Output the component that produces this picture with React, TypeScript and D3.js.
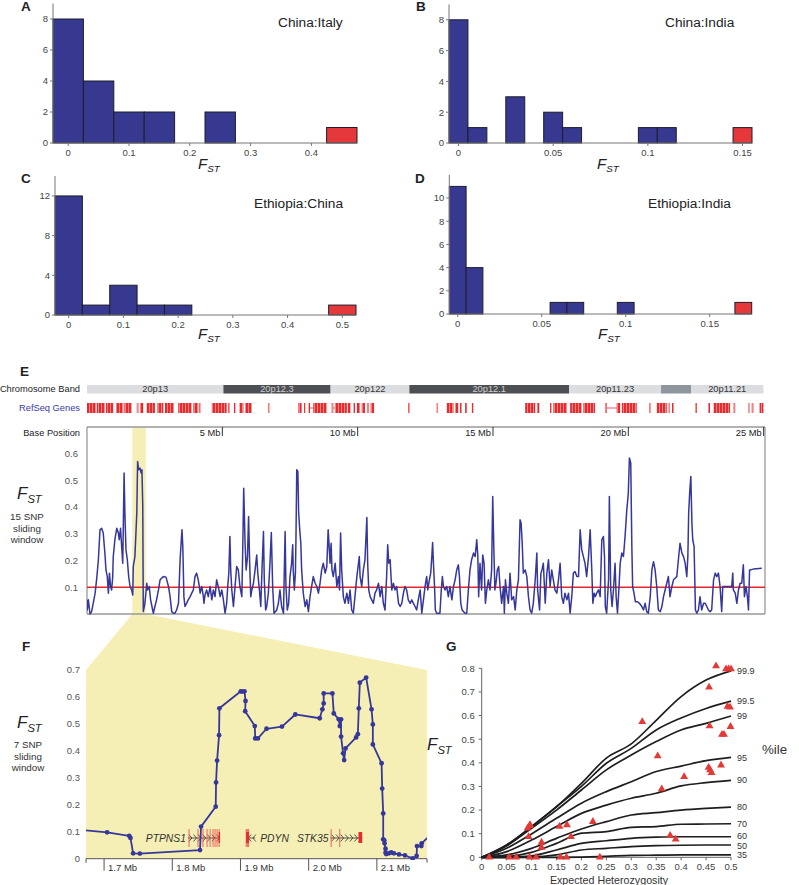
import React from 'react';
import * as d3 from 'd3';

const FONT = '"Liberation Sans", Arial, Helvetica, sans-serif';
const BAR_BLUE = '#37388f';
const RED = '#e5383b';
const LINE_BLUE = '#35379b';
const YELLOW = '#f6efb5';

// ---------- Panels A-D: histogram data ----------
const histA_bins = [0, 0.05, 0.1, 0.15, 0.2, 0.25, 0.3, 0.35, 0.4, 0.45];
const histA_counts = [8, 4, 2, 2, 0, 2, 0, 0, 0, 1];
const histA_xTicks = [0, 0.1, 0.2, 0.3, 0.4];
const histA_yTicks = [0, 2, 4, 6, 8];

const histB_bins = [0, 0.01, 0.02, 0.03, 0.04, 0.05, 0.06, 0.07, 0.08, 0.09, 0.1, 0.11, 0.12, 0.13, 0.14, 0.15];
const histB_counts = [8, 1, 0, 3, 0, 2, 1, 0, 0, 0, 1, 1, 0, 0, 0, 1];
const histB_xTicks = [0, 0.05, 0.1, 0.15];
const histB_yTicks = [0, 2, 4, 6, 8];

const histC_bins = [0, 0.05, 0.1, 0.15, 0.2, 0.25, 0.3, 0.35, 0.4, 0.45, 0.5];
const histC_counts = [12, 1, 3, 1, 1, 0, 0, 0, 0, 0, 1];
const histC_xTicks = [0, 0.1, 0.2, 0.3, 0.4, 0.5];
const histC_yTicks = [0, 4, 8, 12];

const histD_bins = [0, 0.01, 0.02, 0.03, 0.04, 0.05, 0.06, 0.07, 0.08, 0.09, 0.1, 0.11, 0.12, 0.13, 0.14, 0.15, 0.16, 0.17];
const histD_counts = [11, 4, 0, 0, 0, 0, 1, 1, 0, 0, 1, 0, 0, 0, 0, 0, 0, 1];
const histD_xTicks = [0, 0.05, 0.1, 0.15];
const histD_yTicks = [0, 2, 4, 6, 8, 10];

// ---------- Panel E ----------
const bandNames = ['20p13', '20p12.3', '20p122', '20p12.1', '20p11.23', '', '20p11.21'];
const bandStarts = [0, 5.04, 9.0, 11.91, 17.81, 21.21, 22.32];
const bandEnds = [5.04, 9.0, 11.91, 17.81, 21.21, 22.32, 24.99];
const bandStains = ['light', 'dark', 'light', 'dark', 'light', 'grey', 'light'];

const refseqGenes = [
  [0.0, 0.33], [0.36, 0.66], [0.70, 0.97], [1.07, 1.34], [1.38, 1.65], [1.84, 1.90], [1.96, 2.08],
  [2.20, 2.51], [2.60, 2.82], [2.88, 3.21], [3.37, 3.87], [3.93, 4.11], [4.15, 4.20], [4.61, 5.16],
  [5.22, 5.26], [5.43, 5.48], [5.63, 5.78], [5.84, 6.09], [6.70, 6.74], [7.81, 7.93], [8.02, 8.07],
  [8.18, 8.24], [8.36, 8.86], [9.04, 9.10], [9.16, 9.60], [9.63, 9.74], [9.84, 9.90], [9.97, 10.09],
  [10.15, 10.27], [10.36, 10.42], [10.48, 10.61], [11.87, 11.91],
  [12.92, 12.97], [13.29, 13.54], [13.60, 13.72], [13.78, 13.85], [13.97, 14.03], [14.22, 14.28],
  [16.19, 16.56], [16.64, 16.72], [17.11, 17.17], [17.23, 17.73], [17.85, 18.28], [18.34, 18.77],
  [19.14, 19.20], [19.57, 19.70], [19.76, 20.31], [20.78, 20.83], [21.05, 21.42], [21.48, 21.52],
  [21.61, 21.67], [22.47, 22.53], [22.96, 23.02], [23.15, 23.76], [23.89, 23.95], [24.44, 24.48],
  [24.56, 24.62], [24.85, 24.99],
];
const refseqIntrons = [[8.24, 8.36], [9.10, 9.16], [19.20, 19.57]];
const baseTicksMb = [5, 10, 15, 20, 25];
const eYTicks = [0.1, 0.2, 0.3, 0.4, 0.5, 0.6];
const fstThreshold = 0.1;

// [position (Mb), FST] 15-SNP sliding window
const eWindow = [
  [0.00, 0.053], [0.01, 0.015], [0.05, 0.053], [0.11, 0], [0.17, 0.009], [0.23, 0.04], [0.30, 0.078],
  [0.36, 0.134], [0.42, 0.203], [0.48, 0.315], [0.54, 0.321], [0.60, 0.303], [0.67, 0.215], [0.70, 0.165],
  [0.75, 0.14], [0.79, 0.078], [0.83, 0.153], [0.87, 0.103], [0.91, 0.09], [0.95, 0.14], [0.97, 0.215],
  [1.03, 0.278], [1.10, 0.321], [1.16, 0.303], [1.19, 0.278], [1.24, 0.321], [1.28, 0.253], [1.32, 0.19],
  [1.34, 0.315], [1.37, 0.528], [1.40, 0.378], [1.44, 0.24], [1.49, 0.203], [1.54, 0.14], [1.59, 0.103],
  [1.65, 0.09], [1.69, 0.071], [1.71, 0.178], [1.77, 0.215], [1.84, 0.378], [1.87, 0.571], [1.91, 0.54],
  [1.96, 0.546], [2.00, 0.528], [2.03, 0.54], [2.06, 0.403], [2.08, 0.009], [2.14, 0.04], [2.21, 0.115],
  [2.24, 0.09], [2.30, 0.103], [2.35, 0.053], [2.40, 0.028], [2.45, 0.003], [2.51, 0.028], [2.57, 0.053],
  [2.64, 0.09], [2.70, 0.128], [2.82, 0.14], [2.92, 0.138], [3.01, 0.103], [3.07, 0.065], [3.13, 0.009],
  [3.19, 0.003], [3.25, 0.003], [3.31, 0.015], [3.38, 0.04], [3.44, 0.203], [3.47, 0.253], [3.51, 0.315],
  [3.54, 0.253], [3.58, 0.065], [3.62, 0.028], [3.68, 0.04], [3.74, 0.053], [3.81, 0.065], [3.87, 0.078],
  [3.93, 0.09], [3.99, 0.14], [4.05, 0.153], [4.11, 0.128], [4.15, 0.103], [4.18, 0.078], [4.24, 0.103],
  [4.30, 0.065], [4.32, 0.04], [4.36, 0.071], [4.42, 0.09], [4.48, 0.065], [4.55, 0.103], [4.61, 0.053],
  [4.67, 0.09], [4.73, 0.065], [4.79, 0.128], [4.85, 0.103], [4.92, 0.065], [4.98, 0.09], [5.04, 0.053],
  [5.10, 0.003], [5.16, 0.04], [5.20, 0.103], [5.24, 0.153], [5.28, 0.29], [5.31, 0.165], [5.35, 0.09],
  [5.41, 0.028], [5.47, 0.103], [5.53, 0.178], [5.59, 0.165], [5.65, 0.103], [5.72, 0.065], [5.75, 0.215],
  [5.79, 0.471], [5.84, 0.265], [5.88, 0.165], [5.93, 0.215], [5.97, 0.365], [6.01, 0.19], [6.05, 0.065],
  [6.09, 0.09], [6.15, 0.115], [6.21, 0.165], [6.27, 0.221], [6.31, 0.153], [6.37, 0.09], [6.42, 0.028],
  [6.47, 0.178], [6.52, 0.309], [6.55, 0.128], [6.60, 0.015], [6.64, 0.028], [6.70, 0.078], [6.76, 0.19],
  [6.81, 0.305], [6.86, 0.103], [6.91, 0.003], [7.01, 0.015], [7.07, 0.04], [7.13, 0.09], [7.19, 0.028],
  [7.26, 0.003], [7.29, 0.165], [7.32, 0.309], [7.35, 0.103], [7.40, 0.015], [7.45, 0.04], [7.50, 0.14],
  [7.56, 0.19], [7.60, 0.259], [7.62, 0.165], [7.66, 0.09], [7.70, 0.153], [7.72, 0.278], [7.75, 0.54],
  [7.79, 0.534], [7.82, 0.378], [7.86, 0.315], [7.90, 0.265], [7.93, 0.165], [7.99, 0.078], [8.06, 0.028],
  [8.12, 0.053], [8.18, 0.009], [8.24, 0.065], [8.30, 0.103], [8.36, 0.14], [8.43, 0.115], [8.49, 0.103],
  [8.55, 0.078], [8.61, 0.115], [8.67, 0.165], [8.73, 0.19], [8.80, 0.153], [8.86, 0.178], [8.91, 0.315],
  [8.94, 0.265], [8.98, 0.19], [9.02, 0.265], [9.05, 0.165], [9.10, 0.14], [9.17, 0.19], [9.23, 0.103],
  [9.29, 0.14], [9.33, 0.09], [9.37, 0.303], [9.41, 0.165], [9.47, 0.065], [9.53, 0.04], [9.60, 0.078],
  [9.66, 0.04], [9.72, 0.09], [9.78, 0.015], [9.84, 0.003], [9.90, 0.065], [9.97, 0.14], [10.03, 0.19],
  [10.06, 0.215], [10.09, 0.14], [10.15, 0.103], [10.21, 0.165], [10.27, 0.203], [10.34, 0.361],
  [10.37, 0.19], [10.41, 0.09], [10.46, 0.065], [10.52, 0.053], [10.58, 0.04], [10.64, 0.078], [10.70, 0.09],
  [10.77, 0.115], [10.83, 0.065], [10.89, 0.103], [10.95, 0.04], [11.01, 0.015], [11.07, 0.14], [11.11, 0.259],
  [11.15, 0.19], [11.20, 0.203], [11.26, 0.09], [11.32, 0.115], [11.38, 0.09], [11.44, 0.103], [11.51, 0.04],
  [11.57, 0.028], [11.63, 0.04], [11.69, 0.078], [11.75, 0.103], [11.81, 0.09], [11.87, 0.053], [11.94, 0.04],
  [12.00, 0.053], [12.06, 0.04], [12.12, 0.028], [12.18, 0.015], [12.24, 0.053], [12.31, 0.09], [12.37, 0.003],
  [12.43, 0.053], [12.49, 0.103], [12.55, 0.14], [12.59, 0.09], [12.65, 0.128], [12.70, 0.153], [12.74, 0.215],
  [12.77, 0.268], [12.80, 0.19], [12.84, 0.103], [12.87, 0.015], [12.92, 0.003], [12.98, 0.003], [13.04, 0.003],
  [13.09, 0.09], [13.13, 0.14], [13.17, 0.103], [13.23, 0.09], [13.29, 0.103], [13.35, 0.065], [13.41, 0.103],
  [13.48, 0.053], [13.54, 0.103], [13.60, 0.128], [13.66, 0.165], [13.72, 0.184], [13.76, 0.14], [13.81, 0.04],
  [13.86, 0.015], [13.91, 0.009], [13.97, 0.003], [14.03, 0.003], [14.09, 0.09], [14.15, 0.165], [14.21, 0.203],
  [14.28, 0.228], [14.34, 0.215], [14.40, 0.278], [14.44, 0.215], [14.47, 0.065], [14.52, 0.19], [14.58, 0.09],
  [14.62, 0.221], [14.67, 0.19], [14.72, 0.04], [14.77, 0.09], [14.83, 0.128], [14.89, 0.09], [14.95, 0.165],
  [14.99, 0.44], [15.03, 0.253], [15.07, 0.09], [15.11, 0.115], [15.16, 0.165], [15.21, 0.178], [15.26, 0.103],
  [15.32, 0.04], [15.39, 0.103], [15.42, 0.003], [15.46, 0.128], [15.51, 0.078], [15.57, 0.04], [15.63, 0.153],
  [15.69, 0.053], [15.76, 0.065], [15.82, 0.015], [15.88, 0.09], [15.94, 0.128], [16.00, 0.353], [16.04, 0.34],
  [16.08, 0.265], [16.12, 0.153], [16.19, 0.165], [16.25, 0.14], [16.31, 0.065], [16.37, 0.015], [16.43, 0.003],
  [16.49, 0.04], [16.56, 0.128], [16.62, 0.228], [16.65, 0.09], [16.72, 0.015], [16.77, 0.153], [16.81, 0.165],
  [16.86, 0.19], [16.93, 0.04], [16.99, 0.153], [17.05, 0.203], [17.11, 0.103], [17.17, 0.165], [17.23, 0.128],
  [17.29, 0.09], [17.36, 0.078], [17.42, 0.128], [17.48, 0.19], [17.54, 0.065], [17.60, 0.04], [17.66, 0.078],
  [17.73, 0.053], [17.79, 0.078], [17.85, 0.003], [17.91, 0.065], [17.97, 0.153], [18.03, 0.159], [18.10, 0.14],
  [18.16, 0.14], [18.22, 0.315], [18.28, 0.24], [18.34, 0.215], [18.40, 0.19], [18.46, 0.14], [18.53, 0.215],
  [18.59, 0.315], [18.65, 0.165], [18.69, 0.04], [18.74, 0.078], [18.78, 0.065], [18.83, 0.078], [18.90, 0.09],
  [18.96, 0.065], [19.02, 0.278], [19.08, 0.29], [19.12, 0.215], [19.15, 0.028], [19.20, 0.003], [19.27, 0.128],
  [19.30, 0.44], [19.35, 0.09], [19.40, 0.028], [19.45, 0.09], [19.51, 0.19], [19.55, 0.065], [19.60, 0.003],
  [19.65, 0.09], [19.70, 0.19], [19.76, 0.228], [19.82, 0.215], [19.88, 0.29], [19.94, 0.384], [20.00, 0.453],
  [20.04, 0.584], [20.09, 0.565], [20.13, 0.253], [20.16, 0.103], [20.21, 0.078], [20.26, 0.046], [20.34, 0.046],
  [20.41, 0.04], [20.50, 0.028], [20.56, 0.015], [20.62, 0.04], [20.68, 0.009], [20.74, 0.003], [20.81, 0.065],
  [20.87, 0.165], [20.93, 0.196], [20.99, 0.165], [21.05, 0.103], [21.11, 0.015], [21.18, 0.009], [21.24, 0.028],
  [21.30, 0.065], [21.36, 0.09], [21.42, 0.115], [21.48, 0.14], [21.54, 0.065], [21.61, 0.103], [21.67, 0.128],
  [21.73, 0.134], [21.79, 0.14], [21.85, 0.203], [21.91, 0.265], [21.98, 0.228], [22.04, 0.215], [22.10, 0.19],
  [22.16, 0.14], [22.20, 0.215], [22.23, 0.378], [22.27, 0.459], [22.31, 0.515], [22.35, 0.34], [22.38, 0.278],
  [22.43, 0.253], [22.48, 0.015], [22.53, 0.003], [22.59, 0.015], [22.65, 0.065], [22.71, 0.015], [22.78, 0.04],
  [22.84, 0.04], [22.90, 0.028], [22.96, 0.015], [23.02, 0.009], [23.08, 0.015], [23.15, 0.128], [23.21, 0.153],
  [23.27, 0.14], [23.33, 0.153], [23.39, 0.103], [23.45, 0.009], [23.49, 0.103], [23.54, 0.103], [23.64, 0.103],
  [23.76, 0.103], [23.82, 0.103], [23.86, 0.153], [23.88, 0.09], [23.95, 0.078], [24.01, 0.04], [24.07, 0.09],
  [24.13, 0.115], [24.19, 0.115], [24.25, 0.184], [24.29, 0.065], [24.35, 0.103], [24.40, 0.065], [24.44, 0.015],
  [24.48, 0.165], [24.50, 0.165], [24.62, 0.168], [24.93, 0.171],
];

// ---------- Panel F ----------
const fDomainMb = [1.6735, 2.1735];
const fXTicks = [1.7, 1.8, 1.9, 2.0, 2.1];
const fYTicks = [0, 0.1, 0.2, 0.3, 0.4, 0.5, 0.6, 0.7];
// [position (Mb), FST] 7-SNP sliding window
const fWindow = [
  [1.665, 0.107], [1.7044, 0.098], [1.7368, 0.085], [1.7387, 0.077], [1.7426, 0.020], [1.7525, 0.019],
  [1.8407, 0.032], [1.8422, 0.119], [1.8637, 0.193], [1.8642, 0.283], [1.8657, 0.364], [1.8686, 0.458],
  [1.8691, 0.558], [1.9005, 0.621], [1.9025, 0.620], [1.9059, 0.621], [1.9074, 0.585], [1.9069, 0.547],
  [1.921, 0.492], [1.9216, 0.446], [1.9255, 0.446], [1.9382, 0.482], [1.9608, 0.490], [1.9804, 0.535],
  [2.0162, 0.521], [2.0201, 0.554], [2.022, 0.576], [2.022, 0.613], [2.0348, 0.613], [2.0368, 0.539],
  [2.0441, 0.517], [2.0456, 0.492], [2.0475, 0.517], [2.0475, 0.453], [2.0505, 0.391], [2.052, 0.366],
  [2.054, 0.409], [2.0696, 0.450], [2.0721, 0.462], [2.0735, 0.558], [2.075, 0.653], [2.0843, 0.672],
  [2.0922, 0.554], [2.0941, 0.498], [2.0941, 0.424], [2.1069, 0.354], [2.1078, 0.260], [2.1093, 0.168],
  [2.1093, 0.072], [2.1108, 0.068], [2.1113, 0.057], [2.1127, 0.037], [2.1127, 0.022], [2.1137, 0.017],
  [2.1176, 0.020], [2.121, 0.023], [2.125, 0.020], [2.1324, 0.016], [2.1412, 0.012], [2.1525, 0.001],
  [2.1583, 0.010], [2.1588, 0.047], [2.1652, 0.047], [2.1657, 0.057], [2.178, 0.087],
];
const fGeneNames = ['PTPNS1', 'PDYN', 'STK35'];
const fGeneStarts = [1.8229, 1.9084, 2.0319];
const fGeneEnds = [1.8701, 1.9216, 2.0785];
const fGeneStrands = [1, -1, 1];
const fGeneExons = [
  [1.8246, 1.8378, 1.8451, 1.8510, 1.8554, 1.8598, 1.8628, 1.8657, 1.8687],
  [1.9084, 1.9100, 1.9116],
  [2.0329, 2.0456],
];
const fGeneBlocks = [[1.8680, 1.8701], [1.9084, 1.9124], [2.0731, 2.0785]];

// ---------- Panel G ----------
const gHet = [0, 0.05, 0.1, 0.15, 0.2, 0.25, 0.3, 0.35, 0.4, 0.45, 0.5];
const gPctNames = ['99.9', '99.5', '99', '95', '90', '80', '70', '60', '50', '35'];
const gPct999 = [0, 0.052, 0.13, 0.214, 0.313, 0.42, 0.48, 0.58, 0.68, 0.75, 0.789];
const gPct995 = [0, 0.052, 0.13, 0.214, 0.30, 0.398, 0.461, 0.539, 0.59, 0.63, 0.661];
const gPct99 = [0, 0.048, 0.123, 0.20, 0.285, 0.37, 0.433, 0.49, 0.539, 0.567, 0.598];
const gPct95 = [0, 0.038, 0.099, 0.165, 0.229, 0.278, 0.32, 0.363, 0.386, 0.409, 0.423];
const gPct90 = [0, 0.024, 0.073, 0.13, 0.186, 0.221, 0.25, 0.271, 0.302, 0.316, 0.326];
const gPct80 = [0, 0.01, 0.038, 0.08, 0.12, 0.151, 0.179, 0.189, 0.20, 0.207, 0.212];
const gPct70 = [0, 0.003, 0.021, 0.059, 0.102, 0.109, 0.127, 0.13, 0.14, 0.141, 0.142];
const gPct60 = [0, 0, 0.006, 0.031, 0.059, 0.07, 0.08, 0.085, 0.087, 0.087, 0.087];
const gPct50 = [0, 0, 0.001, 0.01, 0.031, 0.038, 0.045, 0.049, 0.051, 0.052, 0.052];
const gPct35 = [0, 0, 0, 0, 0.001, 0.004, 0.008, 0.009, 0.01, 0.01, 0.01];
const gXTicks = [0, 0.05, 0.1, 0.15, 0.2, 0.25, 0.3, 0.35, 0.4, 0.45, 0.5];
const gYTicks = [0, 0.1, 0.2, 0.3, 0.4, 0.5, 0.6, 0.7, 0.8];
// [expected heterozygosity, FST] of pigmentation SNPs
const gSnps = [
  [0.015, 0], [0.055, 0], [0.069, 0], [0.096, 0], [0.109, 0], [0.158, 0], [0.17, 0], [0.237, 0],
  [0.092, 0.123], [0.096, 0.133], [0.097, 0.137], [0.094, 0.087], [0.12, 0.063], [0.12, 0.042],
  [0.156, 0.13], [0.171, 0.137], [0.179, 0.087], [0.223, 0.151], [0.322, 0.574], [0.353, 0.429],
  [0.361, 0.289], [0.378, 0.092], [0.389, 0.076], [0.406, 0.341], [0.456, 0.72], [0.457, 0.556],
  [0.455, 0.38], [0.458, 0.37], [0.461, 0.358], [0.47, 0.81], [0.48, 0.39], [0.482, 0.52], [0.486, 0.52],
  [0.49, 0.797], [0.495, 0.797], [0.5, 0.797], [0.493, 0.638], [0.498, 0.635], [0.499, 0.553],
];
const gLabelNudge = [0, 0, 0, 0, 0, 0, 0, -1, 1, 0];

const tickFmt = (t: number) => String(t);

function Fst({ x, y, size = 15 }: any) {
  return (
    <text x={x} y={y} fontFamily={FONT} fontStyle="italic" fontSize={size} fill="#222">
      F<tspan fontSize={size * 0.66} dy={size * 0.22}>ST</tspan>
    </text>
  );
}

function Letter({ x, y, t }: any) {
  return <text x={x} y={y} fontFamily={FONT} fontWeight="bold" fontSize={13.5} fill="#222">{t}</text>;
}

function Hist(p: any) {
  const x = d3.scaleLinear().domain(p.xDomain).range(p.xRange);
  const y = d3.scaleLinear().domain([0, p.yMax]).range([p.y0, p.yTop]);
  const hw = p.binWidth / 2;
  const x0 = p.xRange[0];
  return (
    <g>
      {p.bins.map((b: number, i: number) =>
        p.counts[i] > 0 ? (
          <rect key={i} x={x(b - hw)} y={y(p.counts[i])} width={x(b + hw) - x(b - hw)}
            height={y(0) - y(p.counts[i])} fill={b === p.red ? RED : BAR_BLUE}
            stroke="#1d1d2a" strokeWidth={1} />
        ) : null
      )}
      <line x1={x0} x2={x0} y1={y(0)} y2={y(p.yMax)} stroke="#777" strokeWidth={1} />
      <line x1={x0} x2={p.xRange[1]} y1={y(0)} y2={y(0)} stroke="#777" strokeWidth={1} />
      {p.yTicks.map((t: number) => (
        <g key={t}>
          <line x1={x0 - 3} x2={x0} y1={y(t)} y2={y(t)} stroke="#777" />
          <text x={x0 - 5} y={y(t)} dy="0.35em" textAnchor="end" fontFamily={FONT} fontSize={9.5} fill="#444">{t}</text>
        </g>
      ))}
      {p.xTicks.map((t: number) => (
        <g key={t}>
          <line x1={x(t)} x2={x(t)} y1={y(0)} y2={y(0) + 3} stroke="#777" />
          <text x={x(t)} y={y(0) + 13} textAnchor="middle" fontFamily={FONT} fontSize={9.5} fill="#444">{tickFmt(t)}</text>
        </g>
      ))}
      <text x={p.titleX} y={p.titleY} fontFamily={FONT} fontSize={13.7} fill="#222">{p.title}</text>
      <Fst x={p.fstX} y={p.fstY} />
      <Letter x={p.letterX} y={p.letterY} t={p.letter} />
    </g>
  );
}

export default function App() {
  // Panel E scales
  const xE = d3.scaleLinear().domain([0, 25.05]).range([87, 765]);
  const yE = d3.scaleLinear().domain([0, 0.7]).range([614, 427]);
  const eLine = d3.line<any>().x((d) => xE(d[0])).y((d) => yE(d[1]));

  // Panel F scales
  const xF = d3.scaleLinear().domain(fDomainMb).range([86, 427]);
  const yF = d3.scaleLinear().domain([0, 0.7]).range([858.7, 670]);
  const fLine = d3.line<any>().x((d) => xF(d[0])).y((d) => yF(d[1]));

  // Panel G scales
  const xG = d3.scaleLinear().domain([0, 0.5]).range([481.7, 731]);
  const yG = d3.scaleLinear().domain([0, 0.8]).range([857.3, 668.3]);
  const gLine = d3.line<number>().x((_, i) => xG(gHet[i])).y((d) => yG(d)).curve(d3.curveMonotoneX);
  const gCurves = [gPct999, gPct995, gPct99, gPct95, gPct90, gPct80, gPct70, gPct60, gPct50, gPct35];
  const tri = d3.symbol().type(d3.symbolTriangle).size(27)();

  const bandFill: any = { light: '#dcdde1', dark: '#4c4f53', grey: '#8f959c' };
  const bandText: any = { light: '#333', dark: '#d0d0d0', grey: '#333' };

  const conn = [
    [xE(fDomainMb[0]), yE(0)], [xE(fDomainMb[1]), yE(0)],
    [xF(fDomainMb[1]), yF(0.7)], [xF(fDomainMb[0]), yF(0.7)],
  ];

  return (
    <svg width={799} height={885} style={{ position: 'absolute', left: 0, top: 0, background: '#fff' }}
      fontFamily={FONT}>
      <defs>
        <pattern id="exons" width={3} height={10} patternUnits="userSpaceOnUse">
          <rect width={3} height={10} fill="#f49a9a" />
          <rect width={2.2} height={10} fill="#e52a30" />
        </pattern>
        <clipPath id="eclip"><rect x={87} y={427} width={678} height={190} /></clipPath>
        <clipPath id="fclip"><rect x={86} y={660} width={341} height={200} /></clipPath>
      </defs>

      {/* Histograms */}
      <Hist bins={histA_bins} counts={histA_counts} red={0.45} binWidth={0.05}
        xDomain={[-0.025, 0.475]} xRange={[53, 357]} yMax={9} y0={143} yTop={3.5}
        yTicks={histA_yTicks} xTicks={histA_xTicks} title="China:Italy" titleX={278} titleY={27}
        fstX={198} fstY={169} letter="A" letterX={21} letterY={11} />
      <Hist bins={histB_bins} counts={histB_counts} red={0.15} binWidth={0.01}
        xDomain={[-0.005, 0.155]} xRange={[449, 752]} yMax={9} y0={143} yTop={4.4}
        yTicks={histB_yTicks} xTicks={histB_xTicks} title="China:India" titleX={665} titleY={27}
        fstX={597} fstY={169} letter="B" letterX={416} letterY={11} />
      <Hist bins={histC_bins} counts={histC_counts} red={0.5} binWidth={0.05}
        xDomain={[-0.025, 0.525]} xRange={[55, 356]} yMax={14} y0={315} yTop={176.1}
        yTicks={histC_yTicks} xTicks={histC_xTicks} title="Ethiopia:China" titleX={254} titleY={208}
        fstX={198} fstY={339} letter="C" letterX={21} letterY={183} />
      <Hist bins={histD_bins} counts={histD_counts} red={0.17} binWidth={0.01}
        xDomain={[-0.005, 0.175]} xRange={[449.3, 751.7]} yMax={12} y0={314} yTop={174.8}
        yTicks={histD_yTicks} xTicks={histD_xTicks} title="Ethiopia:India" titleX={648} titleY={208}
        fstX={598} fstY={339} letter="D" letterX={415} letterY={183} />

      {/* Panel E */}
      <Letter x={20} y={376} t="E" />
      <text x={80} y={392} textAnchor="end" fontSize={9.3} fill="#222">Chromosome Band</text>
      {bandNames.map((n, i) => (
        <g key={i}>
          <rect x={xE(bandStarts[i])} y={385} width={xE(bandEnds[i]) - xE(bandStarts[i])} height={8.5}
            fill={bandFill[bandStains[i]]} />
          {n && <text x={(xE(bandStarts[i]) + xE(bandEnds[i])) / 2} y={392.3} textAnchor="middle"
            fontSize={9.3} fill={bandText[bandStains[i]]}>{n}</text>}
        </g>
      ))}
      <text x={80} y={411} textAnchor="end" fontSize={9.3} fill="#3a3aa8">RefSeq Genes</text>
      {refseqIntrons.map((g, i) => (
        <line key={'in' + i} x1={xE(g[0])} x2={xE(g[1])} y1={408} y2={408} stroke="#e52a30" strokeWidth={0.8} />
      ))}
      {refseqGenes.map((g, i) => (
        <rect key={'g' + i} x={xE(g[0])} y={403} width={Math.max(1.2, xE(g[1]) - xE(g[0]))} height={10}
          fill="url(#exons)" />
      ))}
      <text x={80} y={436} textAnchor="end" fontSize={9.3} fill="#222">Base Position</text>

      <rect x={xE(fDomainMb[0])} y={yE(0.7)} width={xE(fDomainMb[1]) - xE(fDomainMb[0])} height={yE(0) - yE(0.7)}
        fill={YELLOW} />
      <polygon points={conn.map((p) => p.join(',')).join(' ')} fill={YELLOW} />
      <rect x={xF(fDomainMb[0])} y={yF(0.7)} width={xF(fDomainMb[1]) - xF(fDomainMb[0])} height={yF(0) - yF(0.7)}
        fill={YELLOW} />

      <g stroke="#999" strokeWidth={1.3} fill="none">
        <line x1={xE(0)} x2={xE.range()[1]} y1={yE(0.7)} y2={yE(0.7)} />
        <line x1={xE(0)} x2={xE(0)} y1={yE(0.7)} y2={yE(0)} />
        <line x1={xE.range()[1]} x2={xE.range()[1]} y1={yE(0.7)} y2={yE(0)} />
        <line x1={xE(0)} x2={xE.range()[1]} y1={yE(0)} y2={yE(0)} />
      </g>
      {baseTicksMb.map((t) => (
        <g key={t}>
          <line x1={xE(t)} x2={xE(t)} y1={yE(0.7)} y2={yE(0.7) + 9} stroke="#333" strokeWidth={1} />
          <text x={xE(t) - 2} y={436} textAnchor="end" fontSize={9.3} fill="#222">{t} Mb</text>
        </g>
      ))}
      {eYTicks.map((t) => (
        <text key={t} x={78} y={yE(t)} dy="0.35em" textAnchor="end" fontSize={9.5} fill="#555">{t}</text>
      ))}
      <line x1={xE(0)} x2={xE.range()[1]} y1={yE(fstThreshold)} y2={yE(fstThreshold)} stroke="#e8262b" strokeWidth={1.5} />
      <path d={eLine(eWindow as any) || ''} fill="none" stroke={LINE_BLUE} strokeWidth={1.5}
        strokeLinejoin="round" clipPath="url(#eclip)" />
      <Fst x={17} y={499} size={17} />
      <text x={27} y={520} textAnchor="middle" fontSize={9.8} fill="#333">15 SNP</text>
      <text x={27} y={532} textAnchor="middle" fontSize={9.8} fill="#333">sliding</text>
      <text x={27} y={543} textAnchor="middle" fontSize={9.8} fill="#333">window</text>

      {/* Panel F */}
      <Letter x={22} y={651} t="F" />
      <Fst x={17} y={728} size={17} />
      <text x={28} y={748} textAnchor="middle" fontSize={9.8} fill="#333">7 SNP</text>
      <text x={28} y={760} textAnchor="middle" fontSize={9.8} fill="#333">sliding</text>
      <text x={28} y={771} textAnchor="middle" fontSize={9.8} fill="#333">window</text>
      {fYTicks.map((t) => (
        <text key={t} x={80} y={yF(t)} dy="0.35em" textAnchor="end" fontSize={9.5} fill="#555">{t}</text>
      ))}
      <line x1={86} x2={427} y1={yF(0)} y2={yF(0)} stroke="#555" strokeWidth={1} />
      <line x1={86} x2={86} y1={yF(0)} y2={yF(0) + 4} stroke="#555" />
      <line x1={427} x2={427} y1={yF(0)} y2={yF(0) + 4} stroke="#555" />
      {fXTicks.map((t) => (
        <g key={t}>
          <line x1={xF(t)} x2={xF(t)} y1={yF(0)} y2={yF(0) + 12} stroke="#555" />
          <text x={xF(t) + 4} y={yF(0) + 12} fontSize={9.5} fill="#333">{t.toFixed(1)} Mb</text>
        </g>
      ))}
      {fGeneNames.map((n, i) => {
        const a = xF(fGeneStarts[i]);
        const b = xF(fGeneEnds[i]);
        const chev = d3.range(a + 3, b - 1, 4.6);
        return (
          <g key={n}>
            <line x1={a} x2={b} y1={838} y2={838} stroke="#333" strokeWidth={0.8} />
            {chev.map((c, j) => (
              <path key={j} d={fGeneStrands[i] > 0 ? `M${c - 2},834.5L${c + 1},838L${c - 2},841.5` : `M${c + 2},834.5L${c - 1},838L${c + 2},841.5`}
                fill="none" stroke="#333" strokeWidth={0.8} />
            ))}
            {fGeneExons[i].map((e, j) => (
              <line key={'e' + j} x1={xF(e)} x2={xF(e)} y1={829} y2={847} stroke="#ee5055" strokeWidth={0.9} />
            ))}
            <rect x={xF(fGeneBlocks[i][0])} y={832} width={xF(fGeneBlocks[i][1]) - xF(fGeneBlocks[i][0])} height={11}
              fill="#e52a30" />
            {fGeneStrands[i] > 0 ? (
              <text x={a - 2} y={842} textAnchor="end" fontStyle="italic" fontSize={10.3} fill="#333">{n}</text>
            ) : (
              <text x={b + 5} y={842} fontStyle="italic" fontSize={10.3} fill="#333">{n}</text>
            )}
          </g>
        );
      })}
      <g clipPath="url(#fclip)">
        <path d={fLine(fWindow as any) || ''} fill="none" stroke={LINE_BLUE} strokeWidth={1.8} strokeLinejoin="round" />
        {fWindow.map((d, i) => (
          <circle key={i} cx={xF(d[0])} cy={yF(d[1])} r={2.4} fill={LINE_BLUE} />
        ))}
      </g>

      {/* Panel G */}
      <Letter x={446} y={651} t="G" />
      <Fst x={427} y={750} size={17} />
      <text x={762} y={754} fontSize={13.3} fill="#333">%ile</text>
      <line x1={xG(0)} x2={xG(0)} y1={yG(0)} y2={yG(0.8)} stroke="#666" />
      <line x1={xG(0)} x2={xG(0.5)} y1={yG(0)} y2={yG(0)} stroke="#666" />
      {gYTicks.map((t) => (
        <g key={t}>
          <line x1={xG(0) - 3} x2={xG(0)} y1={yG(t)} y2={yG(t)} stroke="#666" />
          <text x={xG(0) - 7} y={yG(t)} dy="0.35em" textAnchor="end" fontSize={9.5} fill="#444">{t}</text>
        </g>
      ))}
      {gXTicks.map((t) => (
        <g key={t}>
          <line x1={xG(t)} x2={xG(t)} y1={yG(0)} y2={yG(0) + 3} stroke="#666" />
          <text x={xG(t)} y={yG(0) + 13} textAnchor="middle" fontSize={9.5} fill="#444">{t}</text>
        </g>
      ))}
      <text x={609} y={884} textAnchor="middle" fontSize={10.7} fill="#333">Expected Heterozygosity</text>
      {gCurves.map((c, i) => (
        <g key={i}>
          <path d={gLine(c) || ''} fill="none" stroke="#1e1e1e" strokeWidth={1.7} />
          <text x={737} y={yG(c[c.length - 1]) + gLabelNudge[i]} dy="0.35em" fontSize={9} fill="#333">{gPctNames[i]}</text>
        </g>
      ))}
      {gSnps.map((d, i) => (
        <path key={i} d={tri || ''} transform={`translate(${xG(d[0])},${yG(d[1])})`} fill="#e23a36" />
      ))}
    </svg>
  );
}
